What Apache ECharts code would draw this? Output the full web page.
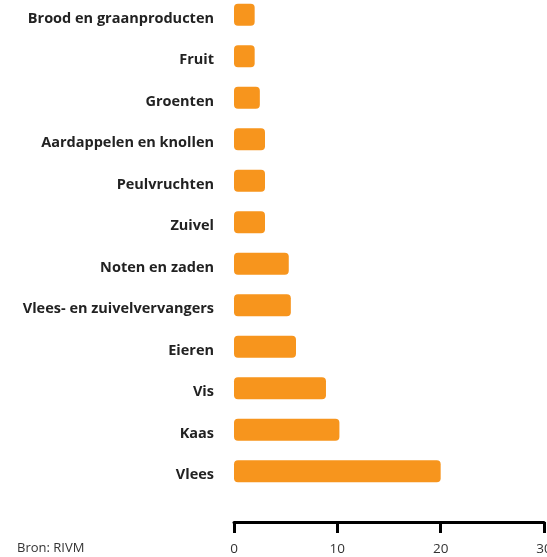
<!DOCTYPE html>
<html>
<head>
<meta charset="utf-8">
<style>
  html, body { margin: 0; padding: 0; background: #ffffff; }
  #chart { width: 547px; height: 557px; }
</style>
<script src="https://cdn.jsdelivr.net/npm/echarts@6/dist/echarts.min.js"></script>
</head>
<body>
<div id="chart"></div>
<script>
// Productgroepen, van boven naar onder
const categories = [
  'Brood en graanproducten',
  'Fruit',
  'Groenten',
  'Aardappelen en knollen',
  'Peulvruchten',
  'Zuivel',
  'Noten en zaden',
  'Vlees- en zuivelvervangers',
  'Eieren',
  'Vis',
  'Kaas',
  'Vlees'
];
const values = [2, 2, 2.5, 3, 3, 3, 5.3, 5.5, 6, 8.9, 10.2, 20];
const xTicks = [0, 10, 20, 30];
const source = 'Bron: RIVM';

const chart = echarts.init(document.getElementById('chart'), null, { renderer: 'canvas' });

chart.setOption({
  animation: false,
  backgroundColor: '#ffffff',
  grid: {
    left: 234, right: 3, top: -6, bottom: 65,
    containLabel: false,
    outerBoundsMode: 'none'
  },
  xAxis: {
    type: 'value',
    min: xTicks[0],
    max: xTicks[xTicks.length - 1],
    interval: 10,
    offset: 30,
    splitLine: { show: false },
    axisLine: { show: true, lineStyle: { color: '#000', width: 3 } },
    axisTick: { show: true, length: 11, lineStyle: { color: '#000', width: 3 } },
    axisLabel: {
      color: '#333',
      fontFamily: 'Open Sans',
      fontSize: 13.5,
      margin: 20,
      hideOverlap: false
    }
  },
  yAxis: {
    type: 'category',
    data: categories,
    inverse: true,
    axisLine: { show: false },
    axisTick: { show: false },
    axisLabel: {
      color: '#222',
      fontFamily: 'Open Sans',
      fontWeight: 'bold',
      fontSize: 14.5,
      margin: 20,
      verticalAlign: 'top',
      lineHeight: 8
    }
  },
  series: [{
    type: 'bar',
    data: values,
    barWidth: 22,
    itemStyle: { color: '#f7951d', borderRadius: 4 }
  }],
  graphic: [{
    type: 'text',
    left: 17,
    top: 542,
    style: { text: source, fill: '#333', font: '13px "Open Sans"' }
  }]
});
</script>
</body>
</html>
